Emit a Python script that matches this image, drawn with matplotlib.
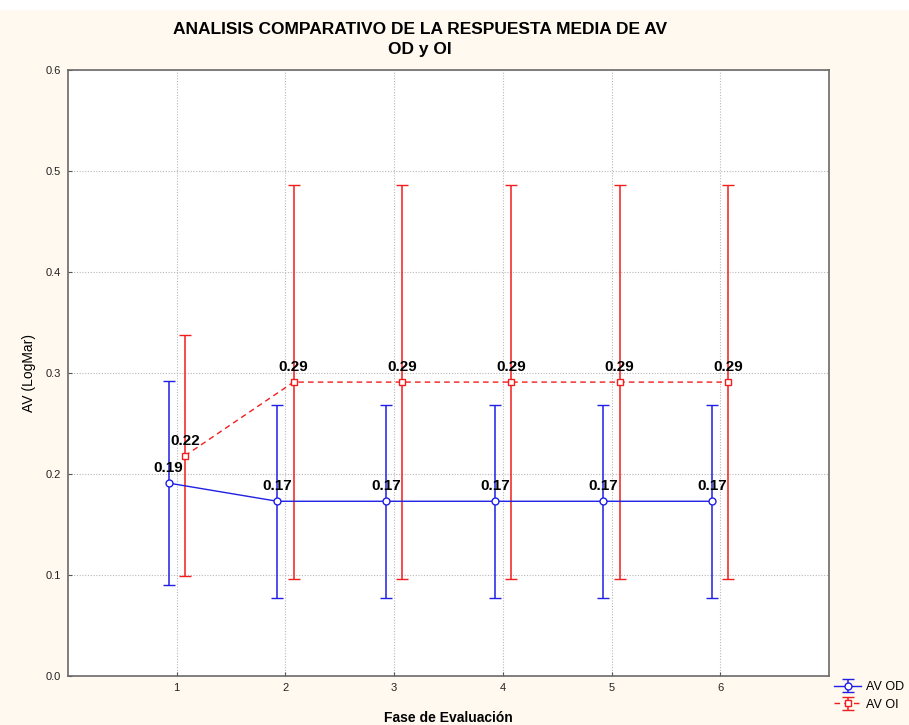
import matplotlib
matplotlib.use("Agg")
import matplotlib.pyplot as plt
from matplotlib.patches import Rectangle
import numpy as np

# data
fases = [1, 2, 3, 4, 5, 6]
od_mean = [0.191, 0.173, 0.173, 0.173, 0.173, 0.173]
od_low = [0.090, 0.077, 0.077, 0.077, 0.077, 0.077]
od_high = [0.292, 0.268, 0.268, 0.268, 0.268, 0.268]
oi_mean = [0.218, 0.291, 0.291, 0.291, 0.291, 0.291]
oi_low = [0.099, 0.096, 0.096, 0.096, 0.096, 0.096]
oi_high = [0.338, 0.486, 0.486, 0.486, 0.486, 0.486]
od_labels = ['0.19', '0.17', '0.17', '0.17', '0.17', '0.17']
oi_labels = ['0.22', '0.29', '0.29', '0.29', '0.29', '0.29']

plt.rcParams['font.family'] = ['Liberation Sans', 'DejaVu Sans']

fig = plt.figure(figsize=(9.09, 7.25), dpi=100, facecolor='#fff9ef')
fig.patches.append(Rectangle((0, 0.986), 1, 0.014, transform=fig.transFigure,
                             facecolor='white', edgecolor='none', zorder=0))
ax = fig.add_axes([68 / 909, 1 - 676 / 725, (829 - 68) / 909, (676 - 70) / 725])
ax.set_facecolor('white')

x = np.array(fases, dtype=float)
off = 0.075

def draw(xs, mean, low, high, color, marker, ls, label, texts):
    mean = np.array(mean)
    yerr = [mean - np.array(low), np.array(high) - mean]
    ax.errorbar(xs, mean, yerr=yerr, color=color, ecolor=color, elinewidth=1.1,
                capsize=4, capthick=1.1, marker=marker, markersize=5,
                markerfacecolor='white', markeredgecolor=color, markeredgewidth=1,
                linestyle=ls, linewidth=1, label=label, zorder=3)
    for xi, yi, t in zip(xs, mean, texts):
        ax.text(xi, yi + 0.008, t, ha='center', va='bottom', fontsize=11,
                fontweight='bold', color='black', zorder=4)

draw(x - off, od_mean, od_low, od_high, '#1f1fe6', 'o', '-', 'AV OD', od_labels)
draw(x + off, oi_mean, oi_low, oi_high, '#f21d1d', 's', (0, (4, 3)), 'AV OI', oi_labels)

ax.set_xlim(0, 7)
ax.set_ylim(0, 0.6)
ax.set_xticks(fases)
ax.set_yticks(np.arange(0, 0.61, 0.1))
ax.set_yticklabels(['%.1f' % v for v in np.arange(0, 0.61, 0.1)])
ax.grid(True, linestyle=(0, (1, 1.5)), color='#b8b8b8', linewidth=0.8)
ax.tick_params(direction='in', length=3, labelsize=8, colors='#555555',
               labelcolor='#222222')
ax.tick_params(axis='x', pad=5)
ax.tick_params(axis='y', pad=5)
for s in ax.spines.values():
    s.set_color('#6a6a6a')
    s.set_linewidth(1.2)

ax.set_xlabel('Fase de Evaluación', fontsize=10, fontweight='bold', labelpad=13)
ax.set_ylabel('AV (LogMar)', fontsize=10, labelpad=7)
fig.text(0.462, 0.97, 'ANALISIS COMPARATIVO DE LA RESPUESTA MEDIA DE AV\nOD y OI',
         ha='center', va='top', fontsize=12.5, fontweight='bold', linespacing=1.4)

leg = ax.legend(loc='upper left', bbox_to_anchor=(1.0, 0.0), frameon=False,
                fontsize=9, handlelength=2.2, borderaxespad=0, labelspacing=0.45,
                handletextpad=0.4)

fig.savefig('out.png', dpi=100, facecolor=fig.get_facecolor())
